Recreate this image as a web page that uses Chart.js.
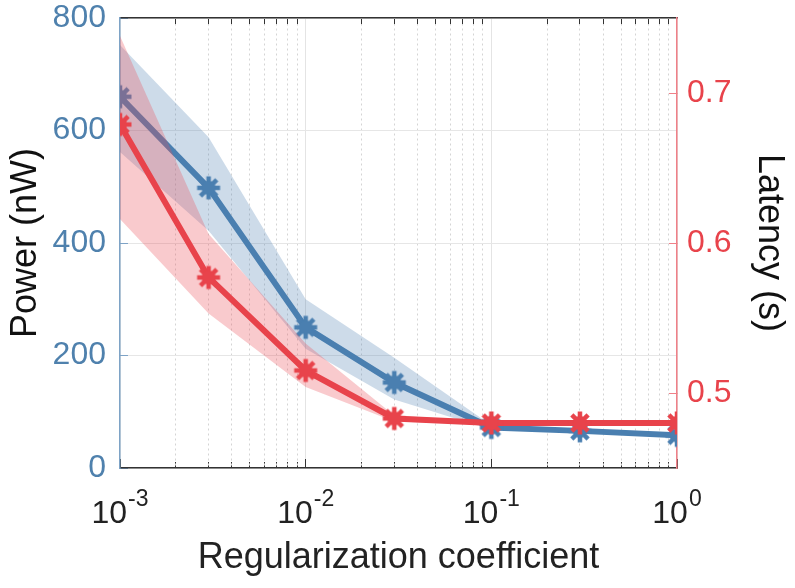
<!DOCTYPE html>
<html>
<head>
<meta charset="utf-8">
<script src="https://cdn.jsdelivr.net/npm/chart.js@4.4.0/dist/chart.umd.min.js"></script>
<style>
  html, body { margin: 0; padding: 0; background: #fff; }
  canvas { display: block; }
</style>
</head>
<body>
<canvas id="grafica" width="795" height="588"></canvas>
<script>
// valores
const coeficientes = [0.001, 0.003, 0.01, 0.03, 0.1, 0.3, 1];
const potencia = [660, 498, 250, 152, 72, 66, 58];
const potenciaAlta = [752, 588, 300, 196, 76, 69, 61];
const potenciaBaja = [562, 422, 212, 122, 68, 63, 55];
const latencia = [0.679, 0.577, 0.515, 0.483, 0.480, 0.480, 0.480];
const latenciaAlta = [0.738, 0.606, 0.533, 0.485, 0.481, 0.481, 0.481];
const latenciaBaja = [0.616, 0.553, 0.504, 0.481, 0.479, 0.479, 0.479];

const decadas = [0.001, 0.01, 0.1, 1];
const exponentes = ['-3', '-2', '-1', '0'];
const menores = [0.002, 0.003, 0.004, 0.005, 0.006, 0.007, 0.008, 0.009,
                 0.02, 0.03, 0.04, 0.05, 0.06, 0.07, 0.08, 0.09,
                 0.2, 0.3, 0.4, 0.5, 0.6, 0.7, 0.8, 0.9];
const ticksPotencia = [0, 200, 400, 600, 800];
const ticksLatencia = [0.5, 0.6, 0.7];

const AZUL = '#4a7fb0';
const ROJO = '#e8434b';
const FUENTE = "'Liberation Sans', Arial, sans-serif";

function puntos(ys) {
    return coeficientes.map((x, i) => ({ x: x, y: ys[i] }));
}

function fijarTicks(valores) {
    return function (scale) {
        scale.ticks = valores.map(v => ({ value: v }));
    };
}

// marcador tipo asterisco grueso (como el '*' de matlab)
function crearAsterisco(color) {
    const c = document.createElement('canvas');
    c.width = 28;
    c.height = 28;
    const g = c.getContext('2d');
    g.strokeStyle = color;
    g.fillStyle = color;
    g.lineWidth = 4.5;
    g.translate(14, 14);
    for (let k = 0; k < 4; k++) {
        g.beginPath();
        g.moveTo(-11.5, 0);
        g.lineTo(11.5, 0);
        g.stroke();
        g.rotate(Math.PI / 4);
    }
    g.beginPath();
    g.arc(0, 0, 7, 0, Math.PI * 2);
    g.fill();
    return c;
}

// etiquetas 10^n con el exponente en superindice
const etiquetasPotencias = {
    id: 'etiquetasPotencias',
    afterDraw(chart) {
        const ctx = chart.ctx;
        const escala = chart.scales.x;
        const base = chart.chartArea.bottom;
        ctx.save();
        ctx.fillStyle = '#222';
        ctx.textBaseline = 'alphabetic';
        ctx.textAlign = 'left';
        decadas.forEach((d, i) => {
            const px = escala.getPixelForValue(d);
            ctx.font = '32px ' + FUENTE;
            const w10 = ctx.measureText('10').width;
            ctx.font = '23px ' + FUENTE;
            const wExp = ctx.measureText(exponentes[i]).width;
            const x0 = px - (w10 + wExp + 1) / 2;
            ctx.font = '32px ' + FUENTE;
            ctx.fillText('10', x0, base + 55);
            ctx.font = '23px ' + FUENTE;
            ctx.fillText(exponentes[i], x0 + w10 + 1, base + 38);
        });
        ctx.restore();
    }
};

function main() {
    const ctx = document.getElementById('grafica').getContext('2d');

    const banda = {
        borderWidth: 0,
        pointRadius: 0,
        tension: 0
    };

    const linea = {
        borderWidth: 6,
        pointRadius: 12,
        fill: false
    };

    const config = {
        type: 'line',
        data: {
            datasets: [
                Object.assign({}, banda, { data: puntos(potenciaAlta), yAxisID: 'y', fill: '+1', backgroundColor: 'rgba(74,127,176,0.28)', order: 6 }),
                Object.assign({}, banda, { data: puntos(potenciaBaja), yAxisID: 'y', fill: false, order: 5 }),
                Object.assign({}, linea, {
                    label: 'Power',
                    data: puntos(potencia),
                    yAxisID: 'y',
                    borderColor: AZUL,
                    backgroundColor: AZUL,
                    pointStyle: crearAsterisco(AZUL),
                    order: 4
                }),
                Object.assign({}, banda, { data: puntos(latenciaAlta), yAxisID: 'y2', fill: '+1', backgroundColor: 'rgba(236,80,88,0.3)', order: 3 }),
                Object.assign({}, banda, { data: puntos(latenciaBaja), yAxisID: 'y2', fill: false, order: 2 }),
                Object.assign({}, linea, {
                    label: 'Latency',
                    data: puntos(latencia),
                    yAxisID: 'y2',
                    borderColor: ROJO,
                    backgroundColor: ROJO,
                    pointStyle: crearAsterisco(ROJO),
                    order: 1
                })
            ]
        },
        options: {
            responsive: false,
            animation: false,
            layout: { padding: { top: 15, left: 0, right: 0, bottom: 0 } },
            plugins: {
                legend: { display: false },
                tooltip: { enabled: false }
            },
            scales: {
                xMenorAbajo: {
                    type: 'logarithmic',
                    position: 'bottom',
                    weight: -1,
                    min: 0.001,
                    max: 1,
                    afterBuildTicks: fijarTicks(menores),
                    afterFit: s => { s.height = 0; s.paddingLeft = 0; s.paddingRight = 0; },
                    ticks: { display: false },
                    grid: { drawOnChartArea: false, tickLength: -6, tickColor: '#333' },
                    border: { display: false }
                },
                x: {
                    type: 'logarithmic',
                    position: 'bottom',
                    min: 0.001,
                    max: 1,
                    afterBuildTicks: fijarTicks(decadas),
                    afterFit: s => { s.height = 120; s.paddingLeft = 0; s.paddingRight = 0; },
                    ticks: { display: false },
                    grid: { color: '#e4e4e4', lineWidth: 1, tickLength: -9, tickColor: '#333' },
                    border: { color: '#333', width: 1.5 },
                    title: {
                        display: true,
                        text: 'Regularization coefficient',
                        color: '#222',
                        font: { family: FUENTE, size: 36 },
                        padding: { top: 0, bottom: 8 }
                    }
                },
                xMenor: {
                    type: 'logarithmic',
                    position: 'top',
                    min: 0.001,
                    max: 1,
                    afterBuildTicks: fijarTicks(menores),
                    afterFit: s => { s.height = 0; s.paddingLeft = 0; s.paddingRight = 0; },
                    ticks: { display: false },
                    grid: { color: '#d4d4d4', lineWidth: 1, tickLength: -6, tickColor: '#333' },
                    border: { color: '#333', width: 1.5, dash: [2, 3] }
                },
                y: {
                    type: 'linear',
                    position: 'left',
                    min: 0,
                    max: 800,
                    afterBuildTicks: fijarTicks(ticksPotencia),
                    afterFit: s => { s.width = 120; s.paddingTop = 0; s.paddingBottom = 0; },
                    ticks: {
                        color: '#4f81ad',
                        font: { family: FUENTE, size: 32 },
                        padding: 22
                    },
                    grid: { color: '#e6e6e6', lineWidth: 1, tickLength: -8, tickColor: '#7ea3c6' },
                    border: { color: '#7ea3c6', width: 1.5 },
                    title: {
                        display: true,
                        text: 'Power (nW)',
                        color: '#111',
                        font: { family: FUENTE, size: 36 },
                        padding: { top: 4, bottom: 0 }
                    }
                },
                y2: {
                    type: 'linear',
                    position: 'right',
                    min: 0.45,
                    max: 0.75,
                    afterBuildTicks: fijarTicks(ticksLatencia),
                    afterFit: s => { s.width = 118; s.paddingTop = 0; s.paddingBottom = 0; },
                    ticks: {
                        color: ROJO,
                        font: { family: FUENTE, size: 32 },
                        padding: 18,
                        callback: v => v.toFixed(1)
                    },
                    grid: { drawOnChartArea: false, tickLength: -8, tickColor: '#f08088' },
                    border: { color: '#f08088', width: 1.5 },
                    title: {
                        display: true,
                        text: 'Latency (s)',
                        color: '#111',
                        font: { family: FUENTE, size: 36 },
                        padding: { top: 4, bottom: 0 }
                    }
                }
            }
        },
        plugins: [etiquetasPotencias]
    };

    window.miGrafica = new Chart(ctx, config);
}

document.addEventListener('DOMContentLoaded', function () {
    main();
});
</script>
</body>
</html>
